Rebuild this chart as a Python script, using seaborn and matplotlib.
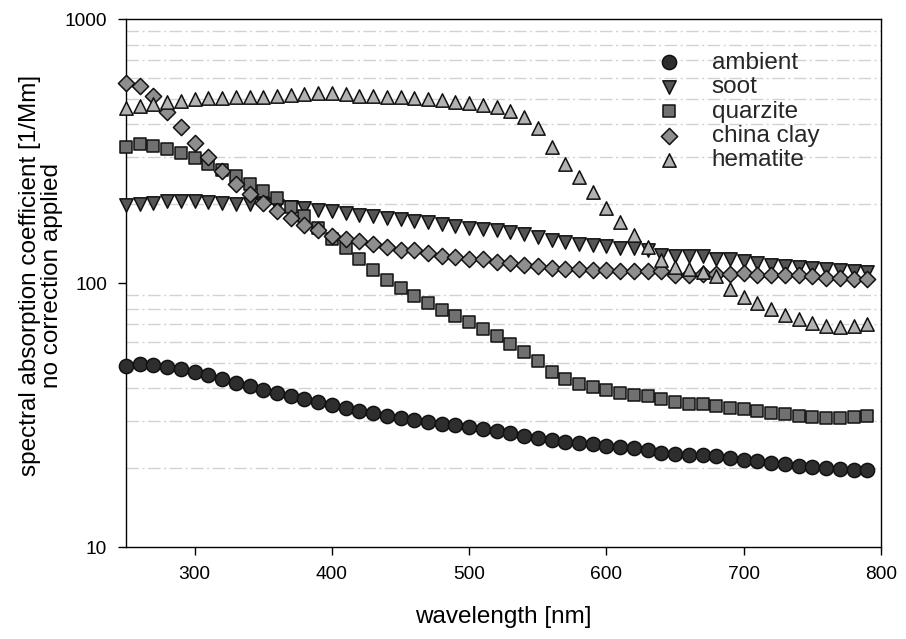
import matplotlib
matplotlib.use('Agg')
import matplotlib.pyplot as plt
import seaborn as sns
import pandas as pd
from matplotlib.ticker import FixedLocator, LogLocator, NullFormatter

# ---------------- data ----------------
wavelength = list(range(250, 800, 10))

ambient = [48.6, 49.4, 48.9, 48.1, 47.2, 46.1, 44.7, 43.2, 41.8, 40.6,
           39.4, 38.3, 37.3, 36.4, 35.4, 34.4, 33.5, 32.8, 32.2, 31.5,
           30.9, 30.4, 29.8, 29.3, 28.9, 28.5, 28.0, 27.6, 27.0, 26.4,
           26.0, 25.4, 24.9, 24.7, 24.5, 24.2, 24.0, 23.8, 23.4, 22.8,
           22.5, 22.4, 22.3, 22.1, 21.7, 21.3, 21.1, 20.8, 20.6, 20.3,
           20.1, 19.9, 19.7, 19.6, 19.5]

soot = [198, 200, 202, 204, 205, 204, 203, 201, 200, 200,
        199, 196, 195, 192, 190, 187, 185, 182, 180, 176,
        175, 172, 170, 167, 165, 162, 161, 159, 156, 153,
        150, 146, 143, 141, 140, 138, 136, 136, 133, 128,
        127, 127, 127, 124, 123, 121, 119, 117, 116, 115,
        114, 113, 112, 111, 110]

quarzite = [329, 336, 332, 323, 311, 297, 283, 269, 254, 238,
            224, 210, 195, 179, 162, 147, 136, 123, 112, 103,
            95.7, 89.5, 84.0, 79.3, 75.2, 71.1, 67.1, 63.1, 58.9, 54.9,
            50.5, 46.0, 43.3, 41.6, 40.3, 39.2, 38.4, 37.8, 37.3, 36.4,
            35.4, 34.9, 34.7, 34.3, 33.7, 33.2, 32.7, 32.3, 31.9, 31.4,
            31.1, 30.8, 30.8, 31.1, 31.4]

china_clay = [575, 559, 512, 447, 392, 339, 302, 265, 238, 218,
              202, 188, 176, 166, 159, 151, 147, 145, 141, 137,
              134, 133, 130, 127, 126, 123, 123, 120, 119, 117,
              116, 114, 113, 113, 112, 112, 111, 111, 111, 111,
              107.5, 107.5, 108, 108, 108, 109, 107.5, 107.5, 107.5, 107,
              106, 105, 105, 104, 104]

hematite = [460, 469, 478, 486, 492, 498, 501, 502, 506, 506,
            509, 512, 515, 520, 525, 525, 521, 512, 512, 509,
            506, 502, 498, 495, 488, 481, 473, 464, 451, 428,
            387, 329, 283, 252, 222, 192, 170, 152, 137, 122,
            115, 113, 110, 106, 95, 89, 84, 80, 75.9, 73.3,
            70.5, 68.9, 68.5, 68.9, 70.1]

series_names = ['ambient', 'soot', 'quarzite', 'china clay', 'hematite']
series_values = [ambient, soot, quarzite, china_clay, hematite]

y_ticks = [10, 100, 1000]
y_tick_labels = ['10', '100', '1000']
x_ticks = [300, 400, 500, 600, 700, 800]

# ---------------- styling ----------------
styles = {
    'ambient':    dict(marker='o', color='#2e2e2e', s=104),
    'soot':       dict(marker='v', color='#555555', s=92),
    'quarzite':   dict(marker='s', color='#707070', s=74),
    'china clay': dict(marker='D', color='#8e8e8e', s=68),
    'hematite':   dict(marker='^', color='#b2b2b2', s=92),
}

sns.set_theme(style='ticks')
plt.rcParams['font.family'] = ['Liberation Sans', 'DejaVu Sans']

fig = plt.figure(figsize=(9.06, 6.39), dpi=100)
ax = fig.add_axes([126 / 906, 1 - 547 / 639, 755 / 906, 527.7 / 639])

for name, vals in zip(series_names, series_values):
    st = styles[name]
    df = pd.DataFrame({'wavelength': wavelength, 'value': vals})
    sns.scatterplot(data=df, x='wavelength', y='value', ax=ax,
                    marker=st['marker'], color=st['color'], s=st['s'],
                    edgecolor='#111111', linewidth=1.1, label=name,
                    legend=False, zorder=3, clip_on=False)

ax.set_yscale('log')
ax.set_xlim(250, 800)
ax.set_ylim(10, 1000)
ax.set_xticks(x_ticks)
ax.set_xticklabels([str(t) for t in x_ticks])
ax.yaxis.set_major_locator(FixedLocator(y_ticks))
ax.set_yticklabels(y_tick_labels)
ax.yaxis.set_minor_locator(LogLocator(base=10, subs=range(2, 10)))
ax.yaxis.set_minor_formatter(NullFormatter())
ax.xaxis.set_minor_locator(FixedLocator([]))

ax.grid(False)
ax.grid(True, axis='y', which='minor', color='#d2d2d2', linewidth=1.0,
        linestyle=(0, (9, 2.5, 1.5, 2.5)))
ax.set_axisbelow(True)

for sp in ax.spines.values():
    sp.set_visible(True)
    sp.set_color('black')
    sp.set_linewidth(1.0)

ax.tick_params(which='major', direction='out', length=5.5, width=1.0,
               color='black', labelsize=13.8, pad=8, labelcolor='black')
ax.tick_params(axis='y', which='minor', length=0)
ax.tick_params(top=False, right=False)

ax.set_xlabel('wavelength [nm]', fontsize=17.5, color='black')
ax.set_ylabel('spectral absorption coefficient [1/Mm]\nno correction applied',
              fontsize=17.5, color='black', linespacing=1.0)
ax.xaxis.set_label_coords(0.5, -0.112)
ax.yaxis.set_label_coords(-0.083, 0.515)

ax.legend(loc='upper left', bbox_to_anchor=(645 / 906, 1 - 51.6 / 639),
          bbox_transform=fig.transFigure, frameon=False, fontsize=17.5,
          handlelength=2.0, handletextpad=0.75, labelspacing=0.1,
          borderpad=0, borderaxespad=0, scatterpoints=1)

fig.savefig('out.png', dpi=100)
